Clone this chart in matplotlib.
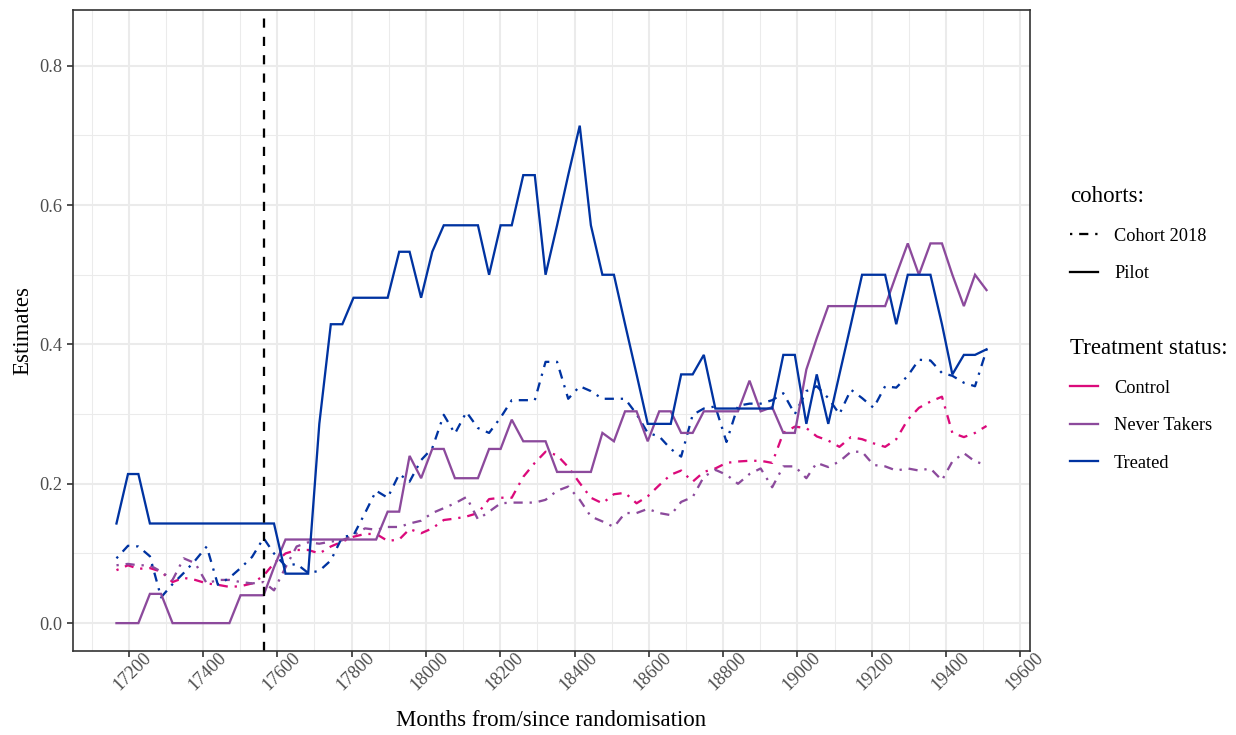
import pandas as pd
import matplotlib.pyplot as plt
from matplotlib.lines import Line2D
from matplotlib.ticker import MultipleLocator
from matplotlib.transforms import ScaledTranslation

# monthly observation dates, plotted as days since 1970-01-01
months = pd.date_range("2017-01-01", "2023-06-01", freq="MS")
days = (months - pd.Timestamp("1970-01-01")).days

randomisation_day = 17563  # 2018-02-01

# Pilot (solid)
treated_pilot = [0.143, 0.214, 0.214, 0.143, 0.143, 0.143, 0.143, 0.143, 0.143, 0.143,
                 0.143, 0.143, 0.143, 0.143, 0.143, 0.071, 0.071, 0.071, 0.286, 0.429,
                 0.429, 0.467, 0.467, 0.467, 0.467, 0.533, 0.533, 0.467, 0.533, 0.571,
                 0.571, 0.571, 0.571, 0.500, 0.571, 0.571, 0.643, 0.643, 0.500, 0.571,
                 0.643, 0.714, 0.571, 0.500, 0.500, 0.429, 0.357, 0.286, 0.286, 0.286,
                 0.357, 0.357, 0.385, 0.308, 0.308, 0.308, 0.308, 0.308, 0.308, 0.385,
                 0.385, 0.286, 0.357, 0.286, 0.357, 0.429, 0.500, 0.500, 0.500, 0.429,
                 0.500, 0.500, 0.500, 0.429, 0.357, 0.385, 0.385, 0.393]
never_pilot = [0.000, 0.000, 0.000, 0.042, 0.042, 0.000, 0.000, 0.000, 0.000, 0.000,
               0.000, 0.040, 0.040, 0.040, 0.080, 0.120, 0.120, 0.120, 0.120, 0.120,
               0.120, 0.120, 0.120, 0.120, 0.160, 0.160, 0.240, 0.208, 0.250, 0.250,
               0.208, 0.208, 0.208, 0.250, 0.250, 0.292, 0.261, 0.261, 0.261, 0.217,
               0.217, 0.217, 0.217, 0.273, 0.261, 0.304, 0.304, 0.261, 0.304, 0.304,
               0.273, 0.273, 0.304, 0.304, 0.304, 0.304, 0.348, 0.304, 0.310, 0.273,
               0.273, 0.364, 0.409, 0.455, 0.455, 0.455, 0.455, 0.455, 0.455, 0.500,
               0.545, 0.500, 0.545, 0.545, 0.500, 0.455, 0.500, 0.478]

# Cohort 2018 (dot-dash)
treated_2018 = [0.093, 0.111, 0.110, 0.096, 0.037, 0.056, 0.072, 0.090, 0.110, 0.055,
                0.065, 0.079, 0.095, 0.122, 0.100, 0.082, 0.085, 0.072, 0.075, 0.090,
                0.124, 0.126, 0.158, 0.190, 0.180, 0.214, 0.203, 0.234, 0.251, 0.299,
                0.272, 0.303, 0.280, 0.273, 0.295, 0.320, 0.320, 0.320, 0.375, 0.375,
                0.322, 0.340, 0.333, 0.322, 0.322, 0.322, 0.300, 0.273, 0.268, 0.250,
                0.239, 0.299, 0.308, 0.311, 0.260, 0.312, 0.315, 0.315, 0.320, 0.330,
                0.300, 0.333, 0.340, 0.323, 0.300, 0.335, 0.323, 0.309, 0.340, 0.338,
                0.355, 0.378, 0.377, 0.359, 0.355, 0.345, 0.340, 0.392]
control_2018 = [0.076, 0.083, 0.078, 0.079, 0.074, 0.059, 0.065, 0.062, 0.057, 0.055,
                0.052, 0.053, 0.057, 0.068, 0.086, 0.100, 0.105, 0.105, 0.100, 0.110,
                0.117, 0.124, 0.128, 0.128, 0.118, 0.120, 0.135, 0.129, 0.136, 0.148,
                0.150, 0.153, 0.158, 0.178, 0.180, 0.180, 0.210, 0.230, 0.246, 0.241,
                0.224, 0.201, 0.180, 0.172, 0.185, 0.187, 0.172, 0.182, 0.198, 0.213,
                0.219, 0.203, 0.217, 0.222, 0.230, 0.232, 0.233, 0.233, 0.230, 0.273,
                0.282, 0.280, 0.268, 0.262, 0.253, 0.267, 0.264, 0.258, 0.253, 0.264,
                0.292, 0.309, 0.318, 0.325, 0.273, 0.267, 0.273, 0.283]
never_2018 = [0.083, 0.085, 0.083, 0.083, 0.074, 0.062, 0.093, 0.086, 0.057, 0.062,
              0.062, 0.059, 0.057, 0.059, 0.047, 0.080, 0.110, 0.116, 0.114, 0.117,
              0.119, 0.126, 0.136, 0.134, 0.138, 0.138, 0.143, 0.147, 0.158, 0.165,
              0.172, 0.181, 0.149, 0.160, 0.172, 0.173, 0.173, 0.173, 0.177, 0.190,
              0.196, 0.177, 0.153, 0.146, 0.138, 0.158, 0.158, 0.164, 0.158, 0.155,
              0.174, 0.181, 0.210, 0.220, 0.213, 0.200, 0.214, 0.222, 0.195, 0.225,
              0.225, 0.208, 0.230, 0.224, 0.232, 0.246, 0.246, 0.227, 0.225, 0.219,
              0.222, 0.219, 0.222, 0.205, 0.232, 0.244, 0.232, 0.227]

status_labels = ["Control", "Never Takers", "Treated"]
status_colors = {"Control": "#DB0A7B", "Never Takers": "#8C4A9C", "Treated": "#0033A1"}
cohort_labels = ["Cohort 2018", "Pilot"]
dotdash = (0, (1, 3, 4, 3))
cohort_styles = {"Cohort 2018": dotdash, "Pilot": "-"}

series = [
    ("Cohort 2018", "Control", control_2018),
    ("Cohort 2018", "Never Takers", never_2018),
    ("Cohort 2018", "Treated", treated_2018),
    ("Pilot", "Never Takers", never_pilot),
    ("Pilot", "Treated", treated_pilot),
]

plt.rcParams["font.family"] = ["Liberation Serif", "DejaVu Serif"]

fig = plt.figure(figsize=(8.24, 4.9), dpi=150)
ax = fig.add_axes([73 / 1236, 84 / 735, 957 / 1236, 641 / 735])

lw = 1.1
for cohort, status, vals in series:
    ax.plot(days, vals, color=status_colors[status], linestyle=cohort_styles[cohort],
            linewidth=lw, dash_capstyle="butt", solid_joinstyle="miter")

ax.axvline(randomisation_day, color="black", linestyle=(0, (4, 4)), linewidth=1.1)

ax.set_xlim(17050, 19626)
ax.set_ylim(-0.04, 0.88)
ax.xaxis.set_major_locator(MultipleLocator(200))
ax.xaxis.set_minor_locator(MultipleLocator(100))
ax.yaxis.set_major_locator(MultipleLocator(0.2))
ax.yaxis.set_minor_locator(MultipleLocator(0.1))
ax.set_yticks([0, 0.2, 0.4, 0.6, 0.8])
ax.set_yticklabels(["0.0", "0.2", "0.4", "0.6", "0.8"])

ax.grid(which="major", color="#EBEBEB", linewidth=1.0)
ax.grid(which="minor", color="#EBEBEB", linewidth=0.5)
ax.set_axisbelow(True)
for sp in ax.spines.values():
    sp.set_color("#333333")
    sp.set_linewidth(0.8)

ax.tick_params(which="major", length=2.75, width=0.8, color="#333333",
               labelcolor="#4D4D4D", labelsize=8.8, pad=2.2)
ax.tick_params(axis="x", which="major", pad=-3.6)
ax.tick_params(which="minor", length=0)
shift = ScaledTranslation(4 / 150, 0, fig.dpi_scale_trans)
for lab in ax.get_xticklabels():
    lab.set_rotation(45)
    lab.set_transform(lab.get_transform() + shift)

ax.set_xlabel("Months from/since randomisation", fontsize=11, labelpad=7.5)
ax.set_ylabel("Estimates", fontsize=11, labelpad=3)

cohort_handles = [Line2D([], [], color="black", linestyle=cohort_styles[c], linewidth=lw,
                         dash_capstyle="butt") for c in cohort_labels]
status_handles = [Line2D([], [], color=status_colors[s], linewidth=lw) for s in status_labels]

leg_kw = dict(loc="upper left", frameon=False, fontsize=8.8, title_fontsize=11,
              borderpad=0, borderaxespad=0, handlelength=1.55, handletextpad=0.85,
              labelspacing=1.12, alignment="left")
fig.legend(cohort_handles, cohort_labels, title="cohorts:",
           bbox_to_anchor=(1070 / 1236, 1 - 186 / 735), **leg_kw)
fig.legend(status_handles, status_labels, title="Treatment status:",
           bbox_to_anchor=(1070 / 1236, 1 - 338 / 735), **leg_kw)

fig.savefig("out.png", dpi=150)
